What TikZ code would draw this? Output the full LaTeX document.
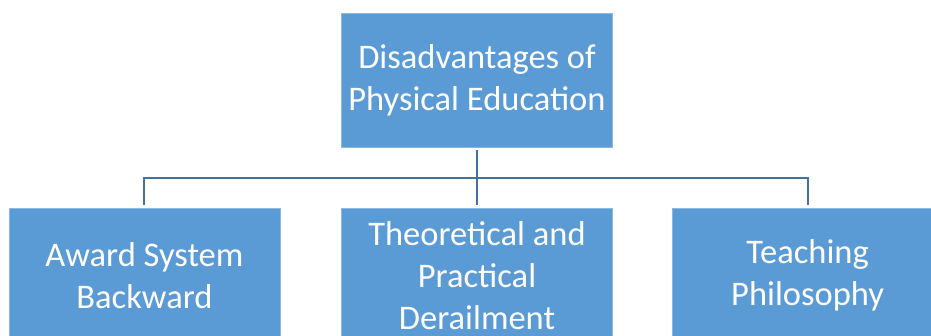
\documentclass[tikz,border=0pt]{standalone}
\usepackage{fontspec}
\setmainfont{Carlito}
\usetikzlibrary{positioning,calc}
\definecolor{boxblue}{RGB}{91,155,213}
\definecolor{edgeblue}{RGB}{65,113,156}

\begin{document}
\begin{tikzpicture}[x=1pt, y=1pt, node distance=61pt,
    topic/.style={rectangle, fill=boxblue, draw=boxblue!70!white, line width=0.6pt,
        minimum width=271pt, minimum height=134pt, align=center, text=white,
        font=\fontsize{34.5}{42}\selectfont, inner sep=0pt},
    link/.style={draw=edgeblue, line width=2pt, shorten >=3pt, shorten <=3pt}]
    \useasboundingbox[clip] (0,0) rectangle (931,336);

    % Main topic
    \node[topic] (main) at (477,256) {Disadvantages of\\Physical Education};

    % Sub topics
    \node[topic, below=of main] (theory) {Theoretical and\\Practical\\Derailment};
    \node[topic, left=of theory] (award) {Award System\\Backward};
    \node[topic, right=59pt of theory] (teaching) {Teaching\\Philosophy};

    % Connectors
    \coordinate (bus) at ($(main.south)!0.5!(theory.north)$);
    \draw[link] (main.south) -- (theory.north);
    \draw[link, shorten <=0pt] (bus) -| (award.north);
    \draw[link, shorten <=0pt] (bus) -| (teaching.north);
\end{tikzpicture}
\end{document}
